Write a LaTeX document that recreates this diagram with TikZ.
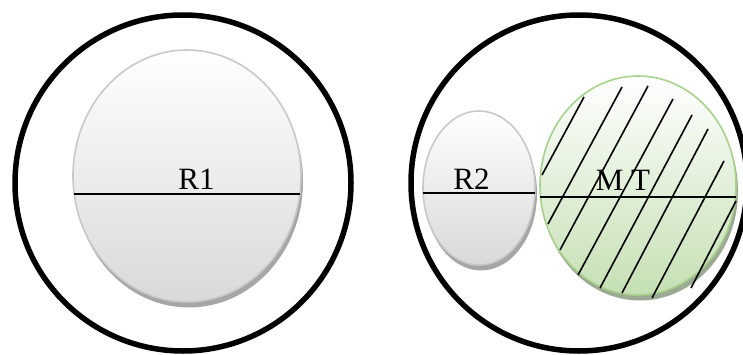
\documentclass[tikz,border=0pt]{standalone}
\usepackage{fontspec}
\setmainfont{Liberation Serif}
\usetikzlibrary{shapes.geometric,shadows,calc}

\definecolor{rimgray}{HTML}{C8C8C8}
\definecolor{shadegray}{HTML}{D9D9D9}
\definecolor{midgray}{HTML}{E8E8E8}
\definecolor{shadowgray}{HTML}{A6A6A6}
\definecolor{rimgreen}{HTML}{A9D18E}
\definecolor{shadegreen}{HTML}{C5E0B4}
\definecolor{midgreen}{HTML}{DDEDD3}
\definecolor{shadowgreen}{HTML}{9CAA93}

\tikzset{
  ring/.style={circle, draw=black, line width=5.5pt, minimum size=336pt, inner sep=0pt},
  greyblob/.style={ellipse, draw=rimgray, line width=1.6pt, inner sep=0pt,
    top color=white, middle color=midgray, bottom color=shadegray,
    drop shadow={shadow xshift=2pt, shadow yshift=-5.5pt, fill=shadowgray, opacity=1}},
  greenblob/.style={ellipse, draw=rimgreen, line width=1.6pt, inner sep=0pt,
    top color=white, middle color=midgreen, bottom color=shadegreen,
    drop shadow={shadow xshift=2pt, shadow yshift=-5.5pt, fill=shadowgreen, opacity=1}},
  divider/.style={line width=1.8pt, black},
  hatchline/.style={line width=1.6pt, black},
  tag/.style={font=\fontsize{31}{35}\selectfont, inner sep=0pt, anchor=base}
}

\begin{document}
\begin{tikzpicture}[x=1pt, y=1pt]
  \useasboundingbox (0,0) rectangle (743,354);

  % outer rings
  \node[ring] (ringL) at (183,171) {};
  \node[ring] (ringR) at (579,171) {};

  % R1
  \node[greyblob, minimum width=228pt, minimum height=252pt] (r1) at (187,178) {};
  \draw[divider] ($(r1.center)+(-113,-18)$) -- ++(226,0);
  \node[tag] (r1lab) at (196.5,165) {R1};

  % R2
  \node[greyblob, minimum width=112pt, minimum height=154pt] (r2) at (479,166) {};
  \draw[divider] ($(r2.center)+(-56,-5)$) -- ++(112,0);
  \node[tag] (r2lab) at (471.5,165) {R2};

  % M T
  \node[greenblob, minimum width=196pt, minimum height=219pt] (mt) at (638,168.5) {};
  \draw[divider] ($(mt.center)+(-98,-11.5)$) -- ++(196,0);
  \node[tag] (mtlab) at (623,164) {M T};

  % hatching across M T
  \draw[hatchline] (584,257) -- (542,179);
  \draw[hatchline] (622,267) -- (548,130);
  \draw[hatchline] (648,268) -- (560,104);
  \draw[hatchline] (673,255) -- (578,79);
  \draw[hatchline] (692,239) -- (600,66);
  \draw[hatchline] (708,225) -- (622,61);
  \draw[hatchline] (724,193) -- (652,56);
  \draw[hatchline] (736,153) -- (691,66);
\end{tikzpicture}
\end{document}
